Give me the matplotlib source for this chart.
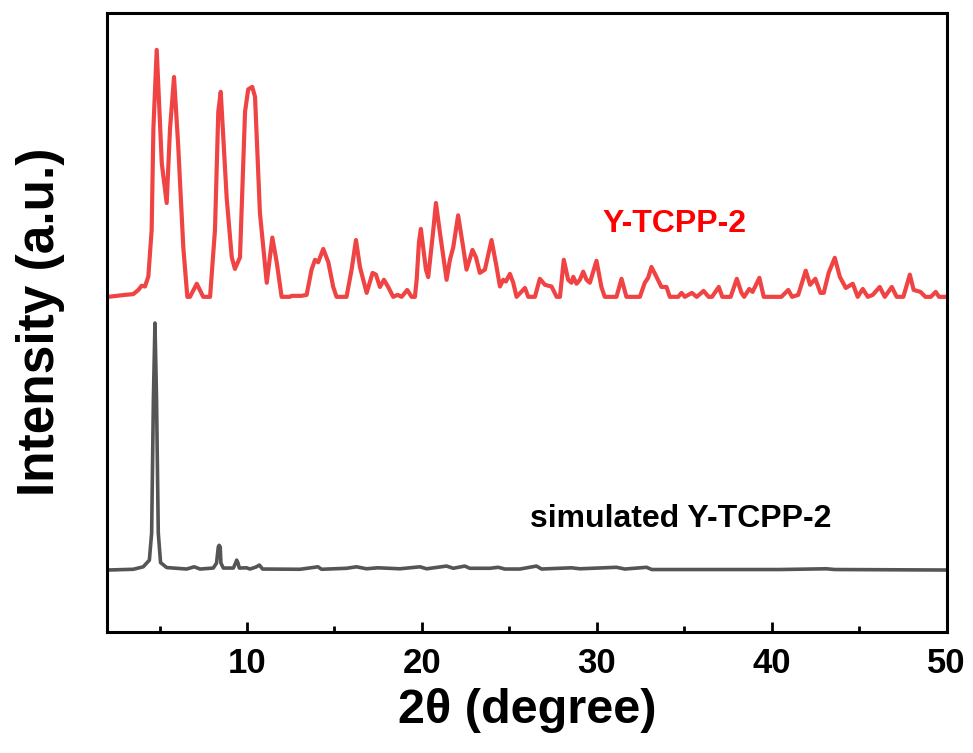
import numpy as np
import matplotlib
matplotlib.use("Agg")
import matplotlib.pyplot as plt

plt.rcParams['font.family'] = ['Liberation Sans', 'DejaVu Sans']
plt.rcParams['font.weight'] = 'bold'

# measured Y-TCPP-2 pattern (2theta, relative intensity)
exp_2theta = [2.06, 3.03, 3.50, 3.79, 3.98, 4.17, 4.36, 4.55, 4.65, 4.84, 5.13, 5.41, 5.60, 5.83, 6.07,
              6.36, 6.59, 6.74, 7.13, 7.50, 7.89, 8.17, 8.36, 8.50, 8.84, 9.13, 9.31, 9.60, 9.89, 10.07,
              10.30, 10.46, 10.74, 11.13, 11.45, 11.70, 11.98, 12.46, 12.55, 13.12, 13.41, 13.69, 13.89,
              14.07, 14.36, 14.65, 14.93, 15.12, 15.69, 15.98, 16.23, 16.46, 16.84, 17.18, 17.37, 17.60,
              17.83, 18.07, 18.36, 18.61, 18.84, 19.16, 19.41, 19.60, 19.70, 19.83, 19.94, 20.23, 20.36,
              20.65, 20.80, 21.03, 21.41, 21.60, 21.79, 22.07, 22.36, 22.55, 22.89, 23.09, 23.31, 23.60,
              23.98, 24.27, 24.46, 24.65, 24.80, 25.03, 25.22, 25.41, 25.89, 26.08, 26.46, 26.74, 27.03,
              27.22, 27.41, 27.70, 27.89, 28.11, 28.36, 28.55, 28.65, 28.84, 29.03, 29.22, 29.41, 29.60,
              29.98, 30.26, 30.45, 31.12, 31.41, 31.69, 32.46, 32.74, 32.93, 33.12, 33.41, 33.69, 33.98,
              34.17, 34.65, 34.84, 35.03, 35.43, 35.71, 36.10, 36.39, 36.58, 36.97, 37.17, 37.65, 38.00,
              38.27, 38.42, 38.71, 38.90, 39.29, 39.54, 40.55, 40.94, 41.16, 41.51, 41.94, 42.19, 42.49,
              42.78, 42.97, 43.25, 43.60, 43.89, 44.23, 44.63, 44.91, 45.20, 45.49, 45.77, 46.17, 46.46,
              46.86, 47.14, 47.52, 47.89, 48.11, 48.50, 48.78, 49.09, 49.37, 49.56, 50.05]
exp_int = [0, 0.8, 1.1, 2.8, 4.5, 4.2, 8.2, 27, 68, 100, 54, 38, 68, 89, 61,
           20, 0, 0, 5.3, 0, 0, 27, 75, 83, 40, 16, 11.3, 16, 75, 84,
           85, 81, 34, 5.7, 24, 14, 0, 0, 0.4, 0.4, 0.8, 11, 15,
           14, 19.4, 14, 4, 0, 0, 11, 23, 12, 1.6, 9.7, 9, 4,
           6.9, 4, 0, 0.8, 0, 2.8, 0, 0, 6.9, 22, 27.5, 11, 8,
           27, 38, 26, 6.9, 15, 20, 33, 20, 11, 19, 16, 9.7, 11,
           23, 12, 4.2, 6.9, 6.2, 9.3, 5.7, 0, 3.6, 0, 0, 7.3, 4.9,
           4.5, 4.2, 0, 0, 15, 6.9, 5.7, 8.1, 5.3, 6.9, 10.2, 6.9, 5.7,
           14.6, 4, 0, 0, 7.3, 0, 0, 5.7, 7.7, 12.1, 8.1, 4, 4,
           0, 0, 1.6, 0, 1.6, 0, 2.4, 0, 0, 4, 0, 0, 7.3,
           1.6, 0, 3.2, 2, 7.7, 0, 0, 2.8, 0, 0.8, 10.6, 4.9, 7.3,
           1.6, 1.6, 9.7, 15.8, 8.1, 3.6, 5.3, 0, 3.2, 0, 0.8, 4, 0,
           4, 0, 0, 9, 2.8, 2, 0, 0, 2, 0, 0]

# simulated pattern
sim_2theta = [2.06, 3.50, 4.07, 4.42, 4.55, 4.65, 4.74, 4.83, 4.93, 5.06, 5.41, 6.55, 6.99, 7.31,
              8.07, 8.26, 8.36, 8.41, 8.47, 8.51, 8.65, 9.22, 9.35, 9.41, 9.49, 9.56, 9.98, 10.17,
              10.51, 10.71, 10.89, 13.03, 14.06, 14.26, 15.69, 16.26, 16.83, 17.48, 18.74, 19.89,
              20.27, 21.41, 21.79, 22.45, 22.74, 23.89, 24.36, 24.74, 25.60, 26.55, 26.84, 28.55,
              29.03, 31.12, 31.60, 32.84, 33.14, 40.46, 43.12, 43.60, 50.0]
sim_int = [0, 0.3, 1.3, 4, 15, 69, 100, 69, 15, 3, 1, 0.4, 1.3, 0.4,
           0.8, 2.8, 9.3, 10, 9.3, 2.8, 0.8, 0.8, 2.8, 4, 2.8, 0.8, 0.9, 0.4,
           1.2, 2, 0.4, 0.3, 1.3, 0.3, 0.7, 1.3, 0.5, 0.9, 0.5, 1.3,
           0.5, 1.6, 0.7, 1.6, 0.7, 0.7, 1.1, 0.4, 0.4, 1.6, 0.4, 0.9,
           0.5, 1.1, 0.4, 1.1, 0.2, 0.2, 0.5, 0.2, 0]

exp_offset = 110.6
sim_offset = 0

fig = plt.figure(figsize=(9.73, 7.53), dpi=100)
ax = fig.add_axes([0.110, 0.161, 0.863, 0.822])

ax.plot(sim_2theta, np.array(sim_int) + sim_offset, color='#555555', lw=2.6,
        solid_joinstyle='round', solid_capstyle='round')
ax.plot(exp_2theta, np.array(exp_int) + exp_offset, color='#F04444', lw=3.0,
        solid_joinstyle='round', solid_capstyle='round')

ax.text(30.3, 140.2, 'Y-TCPP-2', color='#FF0000', fontsize=23, fontweight='bold', va='center')
ax.text(26.2, 20.7, 'simulated Y-TCPP-2', color='black', fontsize=23, fontweight='bold', va='center')

ax.set_xlim(2, 50)
ax.set_ylim(-25, 225.6)
ax.set_xticks([10, 20, 30, 40, 50])
ax.set_xticks([5, 15, 25, 35, 45], minor=True)
ax.set_yticks([])
ax.tick_params(axis='x', which='major', direction='in', length=7, width=2, labelsize=25, pad=11)
ax.tick_params(axis='x', which='minor', direction='in', length=4, width=2)
for s in ax.spines.values():
    s.set_linewidth(2.2)

ax.set_xlabel('2θ (degree)', fontsize=35, fontweight='bold', labelpad=6)
ax.set_ylabel('Intensity (a.u.)', fontsize=37, fontweight='bold', labelpad=30)

fig.savefig('out.png', dpi=100)
